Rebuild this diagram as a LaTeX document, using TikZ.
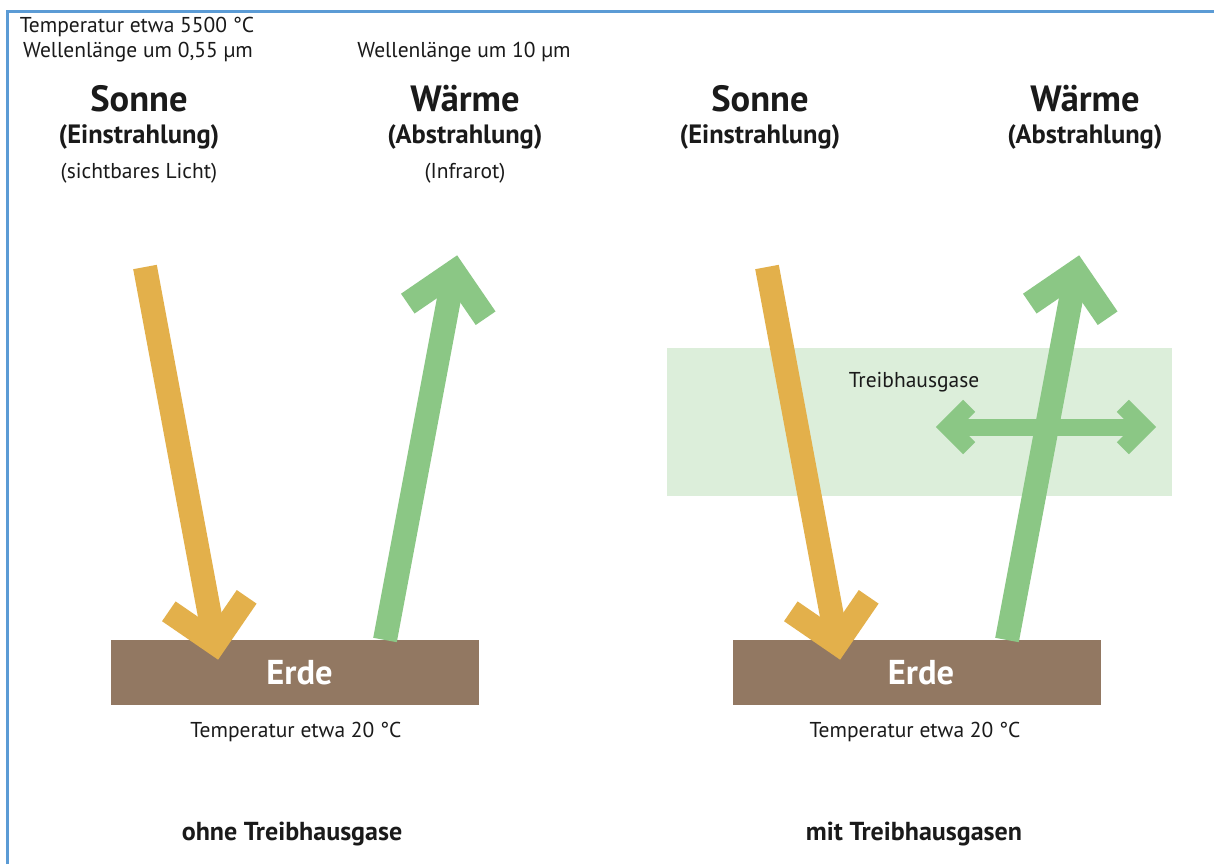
\documentclass[tikz,border=0pt]{standalone}
\usepackage{fontspec}
\setmainfont{PT Sans}
\usetikzlibrary{calc}
\definecolor{sun}{HTML}{E3B04B}
\definecolor{heat}{HTML}{8BC785}
\definecolor{gasband}{HTML}{DCEEDA}
\definecolor{earth}{HTML}{927862}
\definecolor{framecol}{HTML}{5B9BD5}
\definecolor{ink}{HTML}{1A1A1A}

% thick ray with an open chevron head: colour, width, tail, head vertex, arm length
\newcommand\rayarrow[5]{%
  \draw[#1, line width=#2] (#3) -- (#4);
  \draw[#1, line width=#2, line join=miter]
    ($(#4)!#5!45:(#3)$) -- (#4) -- ($(#4)!#5!-45:(#3)$);
}

\tikzset{
  lbl/.style={anchor=base, inner sep=0pt, text=ink, font=\fontsize{21.5}{23}\selectfont},
  head/.style={anchor=base, inner sep=0pt, text=ink, font=\bfseries\fontsize{36.5}{38}\selectfont},
  sub/.style={anchor=base, inner sep=0pt, text=ink, font=\bfseries\fontsize{26.5}{28}\selectfont},
  caption/.style={anchor=base, inner sep=0pt, text=ink, font=\bfseries\fontsize{26}{28}\selectfont},
  earthbox/.style={fill=earth, draw=none, minimum width=368pt, minimum height=65pt, inner sep=0pt},
  earthtext/.style={inner sep=0pt, text=white, font=\bfseries\fontsize{34.5}{36}\selectfont},
}

\begin{document}
\begin{tikzpicture}[x=1pt, y=-1pt]
\useasboundingbox (0,0) rectangle (1214,864);
\fill[white] (0,0) rectangle (1214,864);
\draw[framecol, line width=3pt] (7,864) -- (7,12) -- (1214,12);

% greenhouse gas layer
\fill[gasband] (667,348) rectangle (1172,496);
\node[lbl] (gas) at (914,387) {Treibhausgase};

% ground
\node[earthbox] (erdeL) at (295,672.5) {};
\node[earthbox] (erdeR) at (917,672.5) {};

% ray end points
\coordinate (sunTailL) at (145,267);
\coordinate (sunHeadL) at (215,643);
\coordinate (heatTailL) at (385,640);
\coordinate (heatHeadL) at (454,272);
\coordinate (sunTailR) at (767,267);
\coordinate (sunHeadR) at (837,643);
\coordinate (heatTailR) at (1007,640);
\coordinate (heatHeadR) at (1076,272);
\coordinate (backL) at (948,427);
\coordinate (backR) at (1144,427);

% without greenhouse gases
\rayarrow{sun}{24pt}{sunTailL}{sunHeadL}{56pt}
\rayarrow{heat}{24pt}{heatTailL}{heatHeadL}{56pt}

% with greenhouse gases
\rayarrow{sun}{24pt}{sunTailR}{sunHeadR}{56pt}
\rayarrow{heat}{24pt}{heatTailR}{heatHeadR}{56pt}
\draw[heat, line width=17pt] (backL) -- (backR);
\draw[heat, line width=17pt, line join=miter]
  ($(backL)!30pt!45:(backR)$) -- (backL) -- ($(backL)!30pt!-45:(backR)$);
\draw[heat, line width=17pt, line join=miter]
  ($(backR)!30pt!45:(backL)$) -- (backR) -- ($(backR)!30pt!-45:(backL)$);

% ground labels (drawn above the sun ray tips)
\node[earthtext] (erdeTxtL) at ([xshift=4.5pt]erdeL.center) {Erde};
\node[earthtext] (erdeTxtR) at ([xshift=4pt]erdeR.center) {Erde};

% headings, left
\node[lbl] (tsun) at (137,33) {Temperatur etwa 5500 °C};
\node[lbl] (wsun) at (138,58) {Wellenlänge um 0,55 µm};
\node[head] (sonneL) at (139,112) {Sonne};
\node[sub] (einL) at (139,143) {(Einstrahlung)};
\node[lbl] (licht) at (139,178) {(sichtbares Licht)};
\node[lbl] (wheat) at (464,58) {Wellenlänge um 10 µm};
\node[head] (waermeL) at (465,112) {Wärme};
\node[sub] (absL) at (465,143) {(Abstrahlung)};
\node[lbl] (ir) at (465,178) {(Infrarot)};

% headings, right
\node[head] (sonneR) at (760,112) {Sonne};
\node[sub] (einR) at (760,143) {(Einstrahlung)};
\node[head] (waermeR) at (1085,112) {Wärme};
\node[sub] (absR) at (1085,143) {(Abstrahlung)};

% ground temperatures and captions
\node[lbl] (tearthL) at (296,737) {Temperatur etwa 20 °C};
\node[lbl] (tearthR) at (915,737) {Temperatur etwa 20 °C};
\node[caption] (capL) at (292,840) {ohne Treibhausgase};
\node[caption] (capR) at (914,840) {mit Treibhausgasen};
\end{tikzpicture}
\end{document}
